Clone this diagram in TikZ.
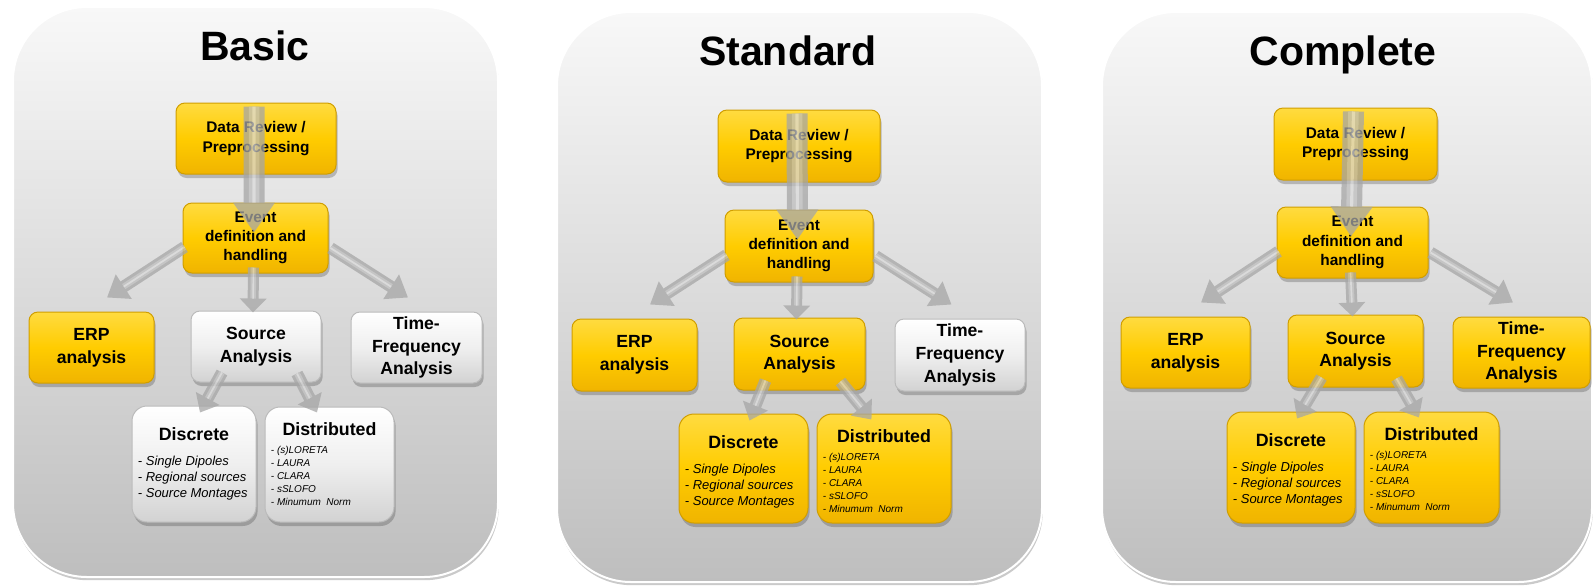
\documentclass[tikz,border=0pt]{standalone}
\usepackage{fontspec}
\setmainfont{Liberation Sans}
\usetikzlibrary{arrows.meta,calc,shadows}

\definecolor{panTop}{HTML}{F8F8F8}
\definecolor{panBot}{HTML}{BEBEBE}
\definecolor{ylTop}{HTML}{FFDB40}
\definecolor{ylMid}{HTML}{FFCC00}
\definecolor{ylBot}{HTML}{F0B400}
\definecolor{ylEdge}{HTML}{D09E00}
\definecolor{gyTop}{HTML}{FFFFFF}
\definecolor{gyMid}{HTML}{EFEFEF}
\definecolor{gyBot}{HTML}{D2D2D2}
\definecolor{gyEdge}{HTML}{BBBBBB}
\definecolor{arrowgray}{HTML}{A6A6A6}
\definecolor{arrowmid}{HTML}{BDBDBD}
\definecolor{arrowshine}{HTML}{DADADA}

\tikzset{
  panel/.style={rounded corners=37pt, inner sep=0pt, draw=white, line width=1pt,
    top color=panTop, bottom color=panBot,
    drop shadow={shadow xshift=0.4pt, shadow yshift=-1.6pt, fill=black!60, opacity=0.35}},
  boxbase/.style={inner sep=0pt, align=center, line width=0.5pt,
    drop shadow={shadow xshift=0.8pt, shadow yshift=-2pt, fill=black!70, opacity=0.32}},
  ybox/.style={boxbase, rounded corners=4.5pt, draw=ylEdge, top color=ylTop, bottom color=ylBot, middle color=ylMid},
  gbox/.style={boxbase, rounded corners=4.5pt, draw=gyEdge, top color=gyTop, bottom color=gyBot, middle color=gyMid},
  ysub/.style={ybox, rounded corners=7.5pt},
  gsub/.style={gbox, rounded corners=7.5pt},
  toptext/.style={font=\fontsize{7.7}{9.6}\selectfont\bfseries},
  midtext/.style={font=\fontsize{8.8}{11.3}\selectfont\bfseries},
  ptitle/.style={font=\fontsize{20.5}{24}\selectfont\bfseries, anchor=base, inner sep=0pt},
  subtitle/.style={font=\fontsize{8.9}{10}\selectfont\bfseries, anchor=base, inner sep=0pt},
  itemsD/.style={font=\fontsize{6.5}{8.15}\selectfont\itshape, align=left, anchor=north west, inner sep=0pt},
  itemsS/.style={font=\fontsize{5}{6.5}\selectfont\itshape, align=left, anchor=north west, inner sep=0pt},
  arrowbase/.style={draw=arrowgray, line cap=butt},
  % rounded, shiny shaft: lighter band and a thin highlight along the middle
  shaftshine/.style args={#1 and #2}{
    postaction={draw=arrowmid, line width=#1*0.5, shorten >=#2, arrows=-},
    postaction={draw=arrowshine, line width=#1*0.15, shorten >=#2, arrows=-}},
  flowmain/.style={arrowbase, line width=10.5pt, -{Triangle[width=20pt,length=15pt]},
    shaftshine={10.5pt and 15pt}},
  flowside/.style={arrowbase, line width=6pt, -{Triangle[width=14pt,length=10pt]},
    shaftshine={6pt and 10pt}},
  flowdown/.style={arrowbase, line width=5.5pt, -{Triangle[width=13pt,length=7pt]},
    shaftshine={5.5pt and 7pt}},
  flowsub/.style={arrowbase, line width=6pt, -{Triangle[width=13pt,length=8pt]},
    shaftshine={6pt and 8pt}}
}

\begin{document}
\begin{tikzpicture}[x=0.5pt,y=-0.5pt]
\useasboundingbox (0,0) rectangle (1596,585);

% the three rounded panels
\node[panel, minimum width=242.5pt, minimum height=285pt] (pan1) at (255.5,292) {};
\node[panel, minimum width=242.5pt, minimum height=285pt] (pan2) at (799.5,297) {};
\node[panel, minimum width=245pt, minimum height=285pt] (pan3) at (1347,297) {};

\node[ptitle] (ttl1) at (255,60) {Basic};
\node[ptitle] (ttl2) at (788,65) {Standard};
\node[ptitle] (ttl3) at (1343,65) {Complete};

% ---------- Basic ----------
\node[ybox, toptext, minimum width=80pt, minimum height=35.5pt] (dr1) at (256,138.5) {Data Review /\\Preprocessing};
\node[ybox, toptext, minimum width=72.5pt, minimum height=35pt] (ev1) at (255.5,238) {Event\\definition and\\handling};
\node[ybox, midtext, minimum width=62.5pt, minimum height=35.5pt] (erp1) at (91.5,347.5) {ERP\\analysis};
\node[gbox, midtext, minimum width=65pt, minimum height=35.5pt] (sa1) at (256,346.5) {Source\\Analysis};
\node[gbox, midtext, minimum width=65.5pt, minimum height=35.5pt] (tf1) at (416.5,347.5) {Time-\\Frequency\\Analysis};
\node[gsub, minimum width=62pt, minimum height=58pt] (disc1) at (194,464) {};
\node[gsub, minimum width=64.5pt, minimum height=57.5pt] (dist1) at (329.5,464.5) {};

% ---------- Standard ----------
\node[ybox, toptext, minimum width=81pt, minimum height=36pt] (dr2) at (799,146) {Data Review /\\Preprocessing};
\node[ybox, toptext, minimum width=74pt, minimum height=36pt] (ev2) at (799,246) {Event\\definition and\\handling};
\node[ybox, midtext, minimum width=62.5pt, minimum height=36pt] (erp2) at (634.5,355) {ERP\\analysis};
\node[ybox, midtext, minimum width=65.5pt, minimum height=36pt] (sa2) at (799.5,354) {Source\\Analysis};
\node[gbox, midtext, minimum width=65pt, minimum height=36pt] (tf2) at (960,355) {Time-\\Frequency\\Analysis};
\node[ysub, minimum width=64.5pt, minimum height=54.5pt] (disc2) at (743.5,468.5) {};
\node[ysub, minimum width=67pt, minimum height=54.5pt] (dist2) at (884,468.5) {};

% ---------- Complete ----------
\node[ybox, toptext, minimum width=81.5pt, minimum height=36pt] (dr3) at (1355.5,144) {Data Review /\\Preprocessing};
\node[ybox, toptext, minimum width=75.5pt, minimum height=35.5pt] (ev3) at (1352.5,242.5) {Event\\definition and\\handling};
\node[ybox, midtext, minimum width=64.5pt, minimum height=35.5pt] (erp3) at (1185.5,352.5) {ERP\\analysis};
\node[ybox, midtext, minimum width=67.5pt, minimum height=36pt] (sa3) at (1355.5,351) {Source\\Analysis};
\node[ybox, midtext, minimum width=68.5pt, minimum height=35.5pt] (tf3) at (1521.5,352.5) {Time-\\Frequency\\Analysis};
\node[ysub, minimum width=64pt, minimum height=55.5pt] (disc3) at (1291,467.5) {};
\node[ysub, minimum width=67.5pt, minimum height=55.5pt] (dist3) at (1431.5,467.5) {};

% contents of the source-model boxes
\foreach \k in {1,2,3}{
  \node[subtitle] (disc\k t) at ($(disc\k.north)+(0,35)$) {Discrete};
  \node[itemsD] (disc\k l) at ($(disc\k.north west)+(6,50)$)
    {- Single Dipoles\\- Regional sources\\- Source Montages};
  \node[subtitle] (dist\k t) at ($(dist\k.north)+(0,29)$) {Distributed};
  \node[itemsS] (dist\k l) at ($(dist\k.north west)+(6,39)$)
    {- (s)LORETA\\- LAURA\\- CLARA\\- sSLOFO\\- Minumum~~Norm};
}

% translucent flow arrows
\begin{scope}[transparency group, opacity=0.75]
\foreach \k in {1,2,3}{
  \draw[flowmain] ($(dr\k.north)+(-2,4)$) -- ($(ev\k.north)+(-1.5,30)$);
  \draw[flowside] ($(ev\k.west)+(2,9)$) -- ($(erp\k.north)+(15.5,-14)$);
  \draw[flowside] ($(ev\k.east)+(2,10)$) -- ($(tf\k.north)+(-8.5,-14)$);
  \draw[flowdown] ($(ev\k.south)+(-2,-6)$) -- ($(sa\k.north)+(-3,2)$);
  \draw[flowsub] ($(sa\k.south)+(-34,-10)$) -- ($(disc\k.north)+(6,7)$);
  \draw[flowsub] ($(sa\k.south)+(41,-9)$) -- ($(dist\k.north)+(-12.5,6)$);
}
\end{scope}
\end{tikzpicture}
\end{document}
